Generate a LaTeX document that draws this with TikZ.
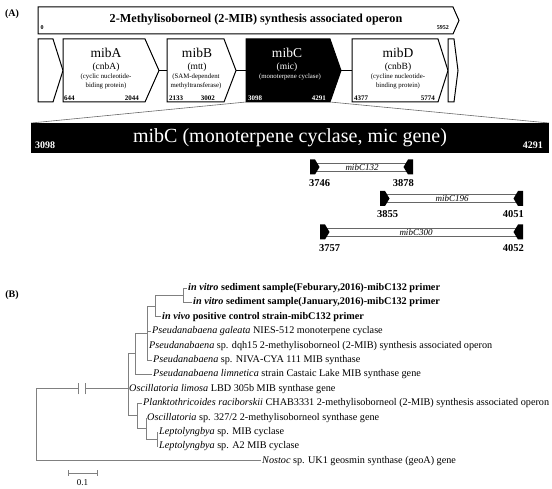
\documentclass[tikz,border=0pt]{standalone}
\usepackage{fontspec}
\setmainfont{Liberation Serif}
\usetikzlibrary{positioning}
\definecolor{treegrey}{HTML}{808080}
\definecolor{mapgrey}{HTML}{6A6A6A}

\begin{document}
\begin{tikzpicture}[x=1pt,y=-1pt,
  genedraw/.style={draw=black,line width=1pt},
  panel/.style={font=\fontsize{10}{12}\selectfont\bfseries,inner sep=0pt},
  genename/.style={font=\fontsize{13.5}{15}\selectfont,inner sep=0pt},
  genealt/.style={font=\fontsize{9.5}{11}\selectfont,inner sep=0pt},
  genenote/.style={font=\fontsize{6.8}{9}\selectfont,align=center,inner sep=0pt},
  genepos/.style={font=\fontsize{7}{8}\selectfont\bfseries,inner sep=0pt},
  barpos/.style={font=\fontsize{10}{11}\selectfont\bfseries,text=white,inner sep=0pt},
  primerpos/.style={font=\fontsize{10.5}{11}\selectfont\bfseries,inner sep=0pt},
  primerlbl/.style={font=\fontsize{9}{9}\selectfont\itshape,inner sep=0pt},
  primerline/.style={draw=black!60,line width=0.8pt,fill=white},
  leaf/.style={font=\fontsize{10.2}{12}\selectfont,anchor=west,inner sep=1pt},
  branch/.style={draw=treegrey,line width=0.8pt}
]
\useasboundingbox (0,0) rectangle (552,489);

\node[panel] (panA) at (12,14) {(A)};

\draw[genedraw] (38,7) -- (453,7) -- (459,20.5) -- (453,34) -- (38,34) -- cycle;
\node[font=\fontsize{12.2}{14}\selectfont\bfseries] (operon) at (256,20) {2-Methylisoborneol (2-MIB) synthesis associated operon};
\node[genepos,font=\fontsize{6}{7}\selectfont\bfseries] (opstart) at (42,28) {0};
\node[genepos,font=\fontsize{6}{7}\selectfont\bfseries,anchor=east] (opend) at (449,28) {5952};

\foreach \xa/\xb/\xt/\col in {38/53/63/white, 63/145/159/white, 167/224/236/white, 246/330/341/black, 352/438/448/white, 448/454/458/white}
  \draw[genedraw,fill=\col] (\xa,39) -- (\xb,39) -- (\xt,70.5) -- (\xb,102) -- (\xa,102) -- cycle;
\draw[genedraw] (159,70.5) -- (167,70.5) (236,70.5) -- (246,70.5) (341,70.5) -- (352,70.5);

\node[genename] (mibA) at (106,53) {mibA};
\node[genealt] (cnbA) at (106,67) {(cnbA)};
\node[genenote] (noteA) at (106,81.5) {(cyclic nucleotide-\\biding protein)};
\node[genepos,anchor=west] (posA1) at (64,98) {644};
\node[genepos,anchor=east] (posA2) at (139,98) {2044};

\node[genename] (mibB) at (197,53) {mibB};
\node[genealt] (mtt) at (197,67) {(mtt)};
\node[genenote] (noteB) at (196,81.5) {(SAM-dependent\\methyltransferase)};
\node[genepos,anchor=west] (posB1) at (169,98) {2133};
\node[genepos,anchor=east] (posB2) at (215,98) {3002};

\node[genename,text=white] (mibC) at (287,53) {mibC};
\node[genealt,text=white] (mic) at (287,67) {(mic)};
\node[genenote,text=white] (noteC) at (290,77) {(monoterpene cyclase)};
\node[genepos,anchor=west,text=white] (posC1) at (248,98) {3098};
\node[genepos,anchor=east,text=white] (posC2) at (326,98) {4291};

\node[genename] (mibD) at (398,53) {mibD};
\node[genealt] (cnbB) at (398,67) {(cnbB)};
\node[genenote] (noteD) at (398,81.5) {(cycline nucleotide-\\binding protein)};
\node[genepos,anchor=west] (posD1) at (354,98) {4377};
\node[genepos,anchor=east] (posD2) at (435,98) {5774};

\draw[mapgrey,line width=0.6pt] (246,102) -- (31,123) (330,102) -- (549,123);
\fill (31,123) rectangle (549,153);
\node[font=\fontsize{20}{24}\selectfont,text=white,inner sep=0pt] (micbar) at (290,137.5) {mibC (monoterpene cyclase, mic gene)};
\node[barpos,anchor=west] (bar1) at (35,145) {3098};
\node[barpos,anchor=east] (bar2) at (543,145) {4291};

\foreach \xl/\xr/\yy in {310/413/167, 380/523/198.5, 320/523/232} {
  \draw[primerline] (\xl+6,\yy-4) rectangle (\xr-6,\yy+4);
  \fill (\xl,\yy-7.5) -- (\xl+5,\yy-7.5) -- (\xl+9.5,\yy) -- (\xl+5,\yy+7.5) -- (\xl,\yy+7.5) -- cycle;
  \fill (\xr,\yy-7.5) -- (\xr-5,\yy-7.5) -- (\xr-9.5,\yy) -- (\xr-5,\yy+7.5) -- (\xr,\yy+7.5) -- cycle;
}
\node[primerlbl] (p132) at (362,167) {mibC132};
\node[primerlbl] (p196) at (452,198.5) {mibC196};
\node[primerlbl] (p300) at (416,232) {mibC300};
\node[primerpos,anchor=west] (f132) at (309,183) {3746};
\node[primerpos,anchor=east] (r132) at (414,183) {3878};
\node[primerpos,anchor=west] (f196) at (377,214) {3855};
\node[primerpos,anchor=east] (r196) at (524,214) {4051};
\node[primerpos,anchor=west] (f300) at (319,248) {3757};
\node[primerpos,anchor=east] (r300) at (524,248) {4052};

\node[panel] (panB) at (12,295) {(B)};

\node[leaf] (t1) at (187,288) {\textbf{\textit{in vitro} sediment sample(Feburary,2016)-mibC132 primer}};
\node[leaf] (t2) at (192,302.4) {\textbf{\textit{in vitro} sediment sample(January,2016)-mibC132 primer}};
\node[leaf] (t3) at (161,316.8) {\textbf{\textit{in vivo} positive control strain-mibC132 primer}};
\node[leaf] (t4) at (151,331.2) {\textit{Pseudanabaena galeata} NIES-512 monoterpene cyclase};
\node[leaf] (t5) at (148,345.6) {\textit{Pseudanabaena} sp. dqh15 2-methylisoborneol (2-MIB) synthesis associated operon};
\node[leaf] (t6) at (152,360) {\textit{Pseudanabaena} sp. NIVA-CYA 111 MIB synthase};
\node[leaf] (t7) at (152,374.4) {\textit{Pseudanabaena limnetica} strain Castaic Lake MIB synthase gene};
\node[leaf] (t8) at (128,388.8) {\textit{Oscillatoria limosa} LBD 305b MIB synthase gene};
\node[leaf] (t9) at (142,403.2) {\textit{Planktothricoides raciborskii} CHAB3331 2-methylisoborneol (2-MIB) synthesis associated operon};
\node[leaf] (t10) at (146,417.6) {\textit{Oscillatoria} sp. 327/2 2-methylisoborneol synthase gene};
\node[leaf] (t11) at (158,432) {\textit{Leptolyngbya} sp. MIB cyclase};
\node[leaf] (t12) at (158,446.4) {\textit{Leptolyngbya} sp. A2 MIB cyclase};
\node[leaf] (t13) at (261,460.8) {\textit{Nostoc} sp. UK1 geosmin synthase (geoA) gene};

\coordinate (nA) at (183,295.2);
\coordinate (nB) at (155,306);
\coordinate (nC) at (147,333);
\coordinate (nD) at (135,353.7);
\coordinate (nE) at (128,388.8);
\coordinate (nH) at (157,439.2);
\coordinate (nG) at (146,428.4);
\coordinate (nF) at (137,415.8);
\coordinate (nR) at (36,424.8);
\coordinate (cut1) at (78,388.8);
\coordinate (cut2) at (85,388.8);

\draw[branch] (nA) |- (t1.west) (nA) |- (t2.west);
\draw[branch] (nB) |- (nA) (nB) |- (t3.west);
\draw[branch] (nC) |- (nB) (nC) |- (t4.west) (nC) |- (t5.west) (nC) |- (t6.west);
\draw[branch] (nD) |- (nC) (nD) |- (t7.west);
\draw[branch] (nE) |- (nD) (nE) |- (t8.west) (nE) |- (nF);
\draw[branch] (nF) |- (t9.west) (nF) |- (nG);
\draw[branch] (nG) |- (t10.west) (nG) |- (nH);
\draw[branch] (nH) |- (t11.west) (nH) |- (t12.west);
\draw[branch] (nR) |- (cut1) (cut2) -- (nE) (nR) |- (t13.west);
\draw[branch] ([yshift=-5.5]cut1) -- ([yshift=5.5]cut1) ([yshift=-5.5]cut2) -- ([yshift=5.5]cut2);

\draw[branch] (68,473) -- (97,473) (68,470) -- (68,476) (97,470) -- (97,476);
\node[font=\fontsize{9}{10}\selectfont,inner sep=0pt] (scale) at (82.5,483) {0.1};
\end{tikzpicture}
\end{document}
